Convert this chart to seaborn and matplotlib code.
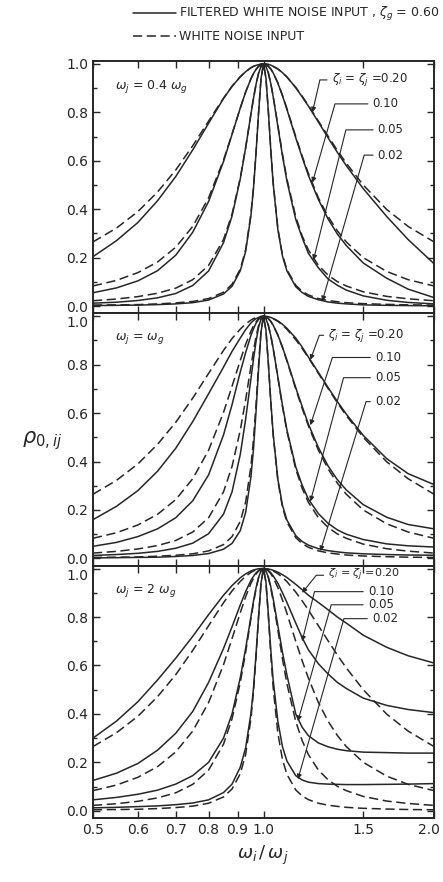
import matplotlib
matplotlib.use("Agg")
import matplotlib.pyplot as plt
import pandas as pd
import seaborn as sns
from matplotlib.lines import Line2D
from matplotlib.ticker import MultipleLocator, NullLocator
from matplotlib.transforms import ScaledTranslation

INK = "#262626"

# frequency ratio omega_i / omega_j (shared by every curve)
R = [0.5, 0.55, 0.6, 0.65, 0.7, 0.75, 0.8, 0.85, 0.88, 0.91, 0.93, 0.95, 0.96, 0.97,
     0.98, 0.99, 1.0, 1.01, 1.02, 1.03, 1.04, 1.06, 1.08, 1.1, 1.14, 1.17, 1.2, 1.25,
     1.3, 1.35, 1.4, 1.5, 1.65, 1.8, 2.0]
ZETAS = ["0.20", "0.10", "0.05", "0.02"]

# white noise input (dashed), same in every panel
WHITE = {
    "0.20": [0.265, 0.322, 0.390, 0.471, 0.562, 0.662, 0.764, 0.859, 0.908, 0.947, 0.968,
             0.984, 0.990, 0.994, 0.997, 0.999, 1.0, 0.999, 0.998, 0.995, 0.990, 0.979,
             0.964, 0.946, 0.903, 0.867, 0.829, 0.764, 0.702, 0.643, 0.590, 0.500, 0.399,
             0.329, 0.265],
    "0.10": [0.083, 0.106, 0.138, 0.182, 0.243, 0.329, 0.447, 0.603, 0.711, 0.818, 0.884,
             0.938, 0.960, 0.977, 0.990, 0.997, 1.0, 0.998, 0.990, 0.979, 0.963, 0.922,
             0.871, 0.815, 0.700, 0.620, 0.548, 0.447, 0.370, 0.311, 0.265, 0.200, 0.143,
             0.109, 0.083],
    "0.05": [0.022, 0.029, 0.039, 0.053, 0.074, 0.109, 0.168, 0.275, 0.380, 0.530, 0.655,
             0.792, 0.857, 0.915, 0.961, 0.990, 1.0, 0.990, 0.962, 0.920, 0.867, 0.747,
             0.628, 0.524, 0.369, 0.290, 0.232, 0.168, 0.128, 0.101, 0.083, 0.059, 0.040,
             0.030, 0.022],
    "0.02": [0.004, 0.005, 0.006, 0.009, 0.013, 0.019, 0.031, 0.057, 0.090, 0.153, 0.233,
             0.379, 0.490, 0.634, 0.797, 0.940, 1.0, 0.942, 0.803, 0.647, 0.510, 0.321,
             0.212, 0.150, 0.086, 0.061, 0.046, 0.031, 0.023, 0.018, 0.014, 0.010, 0.007,
             0.005, 0.004],
}

# filtered white noise input (solid), omega_j = 0.4 omega_g
FILT_04 = {
    "0.20": [0.204, 0.27, 0.345, 0.435, 0.535, 0.645, 0.755, 0.857, 0.907, 0.947, 0.968,
             0.984, 0.99, 0.994, 0.997, 0.999, 1.0, 0.999, 0.998, 0.995, 0.99, 0.979,
             0.964, 0.946, 0.902, 0.864, 0.826, 0.76, 0.695, 0.635, 0.58, 0.485, 0.37,
             0.275, 0.175],
    "0.10": [0.055, 0.075, 0.104, 0.146, 0.21, 0.305, 0.432, 0.597, 0.709, 0.818, 0.884,
             0.938, 0.96, 0.977, 0.99, 0.997, 1.0, 0.998, 0.99, 0.979, 0.963, 0.921,
             0.869, 0.812, 0.695, 0.615, 0.54, 0.44, 0.36, 0.298, 0.25, 0.178, 0.115,
             0.07, 0.035],
    "0.05": [0.012, 0.016, 0.023, 0.034, 0.052, 0.085, 0.145, 0.262, 0.372, 0.526, 0.653,
             0.791, 0.857, 0.915, 0.961, 0.99, 1.0, 0.99, 0.962, 0.919, 0.865, 0.743,
             0.622, 0.516, 0.358, 0.283, 0.218, 0.158, 0.112, 0.086, 0.066, 0.042, 0.024,
             0.015, 0.009],
    "0.02": [0.002, 0.003, 0.004, 0.006, 0.009, 0.014, 0.025, 0.05, 0.082, 0.146, 0.226,
             0.372, 0.484, 0.63, 0.795, 0.94, 1.0, 0.942, 0.802, 0.645, 0.507, 0.317,
             0.207, 0.145, 0.08, 0.056, 0.04, 0.026, 0.017, 0.012, 0.009, 0.005, 0.003,
             0.002, 0.001],
}

# omega_j = omega_g
FILT_1 = {
    "0.20": [0.16, 0.215, 0.28, 0.36, 0.455, 0.565, 0.68, 0.79, 0.855, 0.91, 0.945,
             0.972, 0.982, 0.99, 0.995, 0.999, 1.0, 0.999, 0.998, 0.995, 0.991, 0.981,
             0.967, 0.95, 0.91, 0.873, 0.832, 0.768, 0.706, 0.648, 0.596, 0.508, 0.412,
             0.35, 0.305],
    "0.10": [0.05, 0.066, 0.09, 0.122, 0.168, 0.238, 0.345, 0.51, 0.635, 0.77, 0.85,
             0.92, 0.948, 0.971, 0.987, 0.997, 1.0, 0.998, 0.99, 0.979, 0.963, 0.923,
             0.873, 0.818, 0.705, 0.628, 0.555, 0.458, 0.382, 0.325, 0.283, 0.222, 0.17,
             0.14, 0.122],
    "0.05": [0.012, 0.016, 0.021, 0.029, 0.042, 0.063, 0.102, 0.183, 0.275, 0.43, 0.575,
             0.74, 0.822, 0.895, 0.953, 0.988, 1.0, 0.99, 0.962, 0.92, 0.868, 0.75,
             0.633, 0.53, 0.378, 0.303, 0.245, 0.185, 0.145, 0.118, 0.1, 0.078, 0.06,
             0.052, 0.047],
    "0.02": [0.002, 0.003, 0.004, 0.005, 0.008, 0.012, 0.02, 0.038, 0.062, 0.115, 0.19,
             0.335, 0.45, 0.605, 0.78, 0.935, 1.0, 0.943, 0.805, 0.65, 0.515, 0.328,
             0.22, 0.158, 0.094, 0.07, 0.055, 0.04, 0.032, 0.027, 0.023, 0.019, 0.016,
             0.014, 0.013],
}

# omega_j = 2 omega_g
FILT_2 = {
    "0.20": [0.30, 0.37, 0.45, 0.54, 0.63, 0.72, 0.81, 0.89, 0.93, 0.962, 0.978,
             0.99, 0.994, 0.997, 0.999, 1.0, 1.0, 0.999, 0.998, 0.996, 0.993, 0.985,
             0.975, 0.963, 0.935, 0.913, 0.89, 0.86, 0.83, 0.80, 0.775, 0.725, 0.675,
             0.64, 0.61],
    "0.10": [0.125, 0.155, 0.195, 0.25, 0.32, 0.41, 0.53, 0.67, 0.76, 0.85, 0.905,
             0.951, 0.968, 0.982, 0.992, 0.998, 1.0, 0.998, 0.992, 0.983, 0.97, 0.94,
             0.9, 0.86, 0.775, 0.715, 0.665, 0.607, 0.565, 0.53, 0.505, 0.465, 0.435,
             0.418, 0.405],
    "0.05": [0.045, 0.055, 0.068, 0.085, 0.11, 0.145, 0.2, 0.3, 0.4, 0.55, 0.67,
             0.8, 0.865, 0.92, 0.963, 0.991, 1.0, 0.99, 0.965, 0.925, 0.876, 0.765,
             0.655, 0.56, 0.40, 0.345, 0.31, 0.28, 0.264, 0.254, 0.248, 0.242, 0.24,
             0.238, 0.238],
    "0.02": [0.012, 0.014, 0.017, 0.02, 0.025, 0.032, 0.045, 0.075, 0.11, 0.18, 0.26,
             0.4, 0.505, 0.645, 0.8, 0.94, 1.0, 0.945, 0.81, 0.665, 0.54, 0.37,
             0.265, 0.205, 0.145, 0.127, 0.118, 0.112, 0.11, 0.109, 0.108, 0.108, 0.109,
             0.11, 0.112],
}

PANEL_TITLES = [r"$\omega_j$ = 0.4 $\omega_g$", r"$\omega_j$ = $\omega_g$", r"$\omega_j$ = 2 $\omega_g$"]
PANEL_DATA = [FILT_04, FILT_1, FILT_2]

XTICKS = [0.5, 0.6, 0.7, 0.8, 0.9, 1.0, 1.5, 2.0]
XTICK_LABELS = ["0.5", "0.6", "0.7", "0.8", "0.9", "1.0", "1.5", "2.0"]
YTICKS = [0.0, 0.2, 0.4, 0.6, 0.8, 1.0]
YTICK_LABELS = ["0.0", "0.2", "0.4", "0.6", "0.8", "1.0"]

# leader labels: text, text position (axes fraction), arrow tip (data), leader angle, size
LEADERS = [
    [(r"$\zeta_i$ = $\zeta_j$ =0.20", (0.70, 0.925), (1.22, 0.80), 77, 8.5),
     ("0.10", (0.82, 0.83), (1.22, 0.51), 74, 8.5),
     ("0.05", (0.835, 0.727), (1.225, 0.19), 76, 8.5),
     ("0.02", (0.835, 0.627), (1.27, 0.02), 74, 8.5)],
    [(r"$\zeta_i$ = $\zeta_j$ =0.20", (0.69, 0.913), (1.21, 0.82), 70, 8.5),
     ("0.10", (0.827, 0.825), (1.21, 0.55), 72, 8.5),
     ("0.05", (0.827, 0.745), (1.21, 0.235), 75, 8.5),
     ("0.02", (0.827, 0.65), (1.26, 0.03), 73, 8.5)],
    [(r"$\zeta_i$ = $\zeta_j$ =0.20", (0.69, 0.962), (1.17, 0.90), 51, 8),
     ("0.10", (0.806, 0.897), (1.17, 0.70), 76, 8.5),
     ("0.05", (0.806, 0.845), (1.15, 0.37), 74, 8.5),
     ("0.02", (0.818, 0.79), (1.15, 0.13), 74, 8.5)],
]

sns.set_theme(style="white")
plt.rcParams["font.family"] = ["DejaVu Sans"]
plt.rcParams["mathtext.fontset"] = "dejavusans"

rows = []
for p, filt in enumerate(PANEL_DATA):
    for z in ZETAS:
        for x, y in zip(R, WHITE[z]):
            rows.append((p, z, "white", x, y))
        for x, y in zip(R, filt[z]):
            rows.append((p, z, "filtered", x, y))
df = pd.DataFrame(rows, columns=["panel", "zeta", "input", "r", "rho"])

fig, axes = plt.subplots(3, 1, figsize=(4.43, 8.82), dpi=100, sharex=True)
fig.subplots_adjust(left=93 / 443, right=434 / 443, top=1 - 61 / 882,
                    bottom=1 - 818 / 882, hspace=0)

for p, ax in enumerate(axes):
    sub = df[df["panel"] == p]
    sns.lineplot(data=sub, x="r", y="rho", units="zeta", estimator=None,
                 style="input", style_order=["filtered", "white"],
                 dashes={"filtered": "", "white": (6, 3)},
                 color=INK, lw=1.1, legend=False, ax=ax)
    ax.set_xscale("log")
    ax.set_xlim(0.5, 2.0)
    ax.set_ylim(-0.03, 1.012)
    ax.set_xticks(XTICKS, labels=XTICK_LABELS)
    ax.xaxis.set_minor_locator(NullLocator())
    ax.set_yticks(YTICKS, labels=YTICK_LABELS)
    ax.yaxis.set_minor_locator(MultipleLocator(0.1))
    ax.tick_params(which="both", direction="in", top=True, right=True, bottom=True,
                   left=True, color=INK, width=1.0, labelsize=10, labelcolor=INK)
    ax.tick_params(which="major", length=5)
    ax.tick_params(which="minor", length=3)
    if p < 2:
        ax.tick_params(axis="x", labelbottom=False)
    if p > 0:
        # the 1.0 label sits just under the shared border
        ax.get_yticklabels()[-1].set_va("top")
    for s in ax.spines.values():
        s.set_linewidth(1.4)
        s.set_color(INK)
    ax.set_xlabel("")
    ax.set_ylabel("")
    ax.text(0.065, 0.90, PANEL_TITLES[p], transform=ax.transAxes, fontsize=9,
            color=INK, va="center")
    for text, txy, tip, ang, fs in LEADERS[p]:
        ax.annotate(text, xy=tip, xycoords="data", xytext=txy, textcoords="axes fraction",
                    ha="left", va="center", fontsize=fs, color=INK,
                    arrowprops=dict(arrowstyle="-|>", color=INK, lw=0.8, shrinkA=1,
                                    shrinkB=0, mutation_scale=7,
                                    connectionstyle=f"angle,angleA=0,angleB={ang},rad=0"))

# keep "2.0" inside the figure
last = axes[-1].get_xticklabels()[-1]
last.set_transform(last.get_transform() + ScaledTranslation(-0.05, 0, fig.dpi_scale_trans))

fig.text(42 / 443, 0.5, r"$\rho_{0,ij}$", fontsize=15, color=INK, ha="center", va="center")
fig.text(263 / 443, 1 - 855 / 882, r"$\omega_i\,/\,\omega_j$", fontsize=13, color=INK,
         ha="center", va="center")

handles = [Line2D([], [], color=INK, lw=1.1), Line2D([], [], color=INK, lw=1.1, dashes=(6, 3))]
fig.legend(handles, [r"FILTERED WHITE NOISE INPUT , $\zeta_g$ = 0.60", "WHITE NOISE INPUT"],
           loc="upper left", bbox_to_anchor=(133 / 443, 1 - 5 / 882), frameon=False,
           handlelength=3.4, handletextpad=0.3, fontsize=9, labelspacing=0.55,
           borderpad=0, borderaxespad=0, labelcolor=INK)

fig.savefig("out.png", dpi=100)
plt.close(fig)
